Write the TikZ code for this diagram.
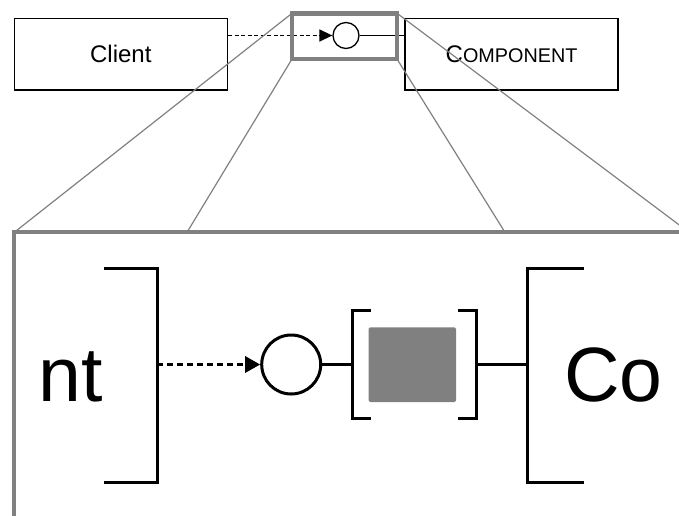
\documentclass[tikz,border=0pt]{standalone}
\usepackage{fontspec}
\setmainfont{Liberation Sans}
\usetikzlibrary{arrows.meta}
\definecolor{zoomgray}{gray}{0.5}
\tikzset{
  smallbox/.style={draw=black, line width=1.5pt, rectangle, inner sep=0pt, minimum width=213pt, minimum height=71.7pt, font=\fontsize{24}{28}\selectfont},
  smallcirc/.style={draw=black, line width=1.3pt, circle, inner sep=0pt, minimum size=26pt, fill=white},
  bigcirc/.style={draw=black, line width=3pt, circle, inner sep=0pt, minimum size=59pt, fill=white},
  thinlink/.style={line width=1.5pt, black},
  thicklink/.style={line width=3pt, black},
  bracket/.style={line width=3pt, black, line cap=rect},
  zoomline/.style={zoomgray, line width=1.2pt},
  zoomframe/.style={zoomgray, line width=4pt},
  bigtext/.style={anchor=base west, inner sep=0pt, font=\fontsize{77}{90}\selectfont},
}
\begin{document}
\begin{tikzpicture}[x=1pt,y=-1pt]
\useasboundingbox (0,0) rectangle (679,515);
\clip (0,0) rectangle (679,515);
% top diagram
\node[smallbox] (client) at (120.8,54.2) {Client};
\node[smallbox] (comp) at (511.6,54.2) {{\fontsize{24}{28}\selectfont C}{\fontsize{19.8}{24}\selectfont OMPONENT}};
\node[smallcirc] (sc) at (346,35.5) {};
\draw[thinlink, dash pattern=on 4pt off 2.5pt, -{Triangle[length=13pt,width=12pt]}] (client.east |- sc) -- (sc.west);
\draw[thinlink] (sc.east) -- (comp.west |- sc);
% zoom box
\coordinate (ztl) at (292,13.3);
\coordinate (ztr) at (397,13.3);
\coordinate (zbl) at (292,59);
\coordinate (zbr) at (397,59);
\draw[zoomframe, line width=4.5pt] (ztl) rectangle (zbr);
% zoom rays
\coordinate (ftl) at (14.3,232.3);
\coordinate (fa) at (187,232.3);
\coordinate (fb) at (505,232.3);
\coordinate (ftr) at (689,232.3);
\draw[zoomline] (ztl) -- (ftl);
\draw[zoomline] (zbl) -- (fa);
\draw[zoomline] (zbr) -- (fb);
\draw[zoomline] (ztr) -- (ftr);
% zoomed frame
\draw[zoomframe] (14.3,530) -- (ftl) -- (700,232.3);
% zoomed content
\node[bigtext] (nt) at (38,401) {nt};
\node[bigtext] (co) at (564,401) {Co};
\draw[bracket] (105,268.3) -- (157,268.3) -- (157,482.3) -- (105,482.3);
\draw[bracket] (582.5,268.3) -- (527.5,268.3) -- (527.5,482.3) -- (582.5,482.3);
\coordinate (lb) at (157,364.5);
\coordinate (rb) at (527.5,364.5);
\node[bigcirc] (bc) at (291.2,364.5) {};
\draw[thicklink, dash pattern=on 6pt off 4pt, -{Triangle[length=15pt,width=16pt]}] (lb) -- (bc.west);
\draw[bracket] (369.5,310.3) -- (352,310.3) -- (352,418.3) -- (369.5,418.3);
\draw[bracket] (459,310.3) -- (476,310.3) -- (476,418.3) -- (459,418.3);
\node[fill=zoomgray, rounded corners=1.5pt, inner sep=0pt, minimum width=87.4pt, minimum height=74.7pt] (sq) at (412.3,364.7) {};
\coordinate (sl) at (352,364.5);
\coordinate (sr) at (476,364.5);
\draw[thicklink] (bc.east) -- (sl);
\draw[thicklink] (sr) -- (rb);
\end{tikzpicture}
\end{document}
